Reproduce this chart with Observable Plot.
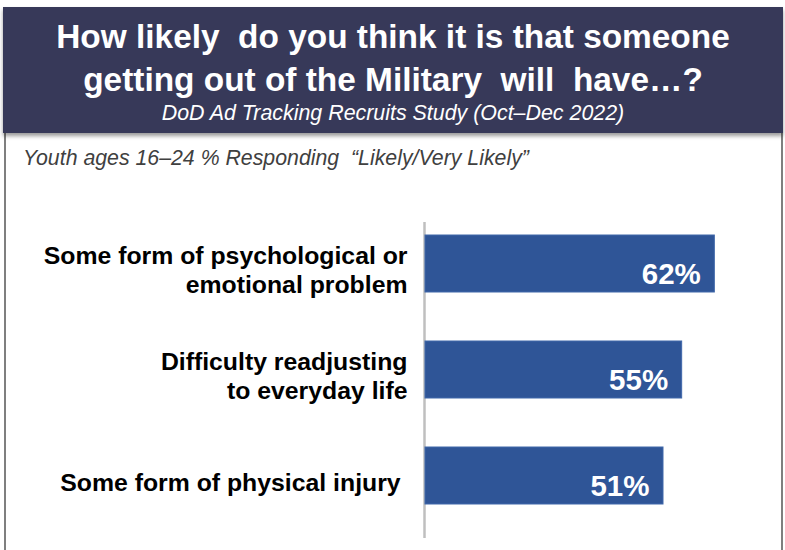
<!DOCTYPE html>
<html>
<head>
<meta charset="utf-8">
<script src="https://cdn.jsdelivr.net/npm/d3@7"></script>
<script src="https://cdn.jsdelivr.net/npm/@observablehq/plot@0.6"></script>
<style>
  html, body { margin: 0; padding: 0; background: #fff; }
  #wrap { position: relative; width: 785px; height: 550px; overflow: hidden;
          font-family: 'Liberation Sans', Arial, sans-serif; }
  #header { position: absolute; left: 3px; top: 7px; width: 780px; height: 126px;
            background: #373959; box-shadow: 0 3px 4px rgba(0,0,0,0.4);
            color: #fff; text-align: center; z-index: 2; }
  #title { padding-top: 8.2px; font-size: 33.4px; font-weight: bold; line-height: 43px; white-space: pre; }
  #subtitle { font-size: 21.4px; font-style: italic; line-height: 24px; }
  .border { position: absolute; top: 133px; width: 2px; height: 417px; background: #7f7f7f; }
  #note { position: absolute; left: 23px; top: 144.5px; font-size: 21.3px; line-height: 26px;
          font-style: italic; color: #404040; white-space: pre; }
  #chart { position: absolute; left: 0; top: 180px; }
</style>
</head>
<body>
<div id="wrap">
  <div id="header">
    <div id="title"></div>
    <div id="subtitle"></div>
  </div>
  <div class="border" style="left:4px"></div>
  <div class="border" style="left:781px"></div>
  <div id="note"></div>
  <div id="chart"></div>
</div>
<script>
// ---- data ----
const titleLines = ["How likely  do you think it is that someone", "getting out of the Military  will  have\u2026?"];
const subtitleText = "DoD Ad Tracking Recruits Study (Oct\u2013Dec 2022)";
const noteText = "Youth ages 16\u201324 % Responding  \u201cLikely/Very Likely\u201d";
const categories = [
  "Some form of psychological or\nemotional problem",
  "Difficulty readjusting\nto everyday life",
  "Some form of physical injury\u00a0"
];
const values = [62, 55, 51];

// ---- text ----
document.getElementById("title").textContent = titleLines.join("\n");
document.getElementById("subtitle").textContent = subtitleText;
document.getElementById("note").textContent = noteText;

// ---- chart ----
const data = categories.map((c, i) => ({cat: c, value: values[i]}));

const chart = Plot.plot({
  width: 785,
  height: 370,
  marginTop: 42,
  marginBottom: 12,
  marginLeft: 425,
  marginRight: 10,
  style: {fontFamily: "'Liberation Sans', Arial, sans-serif", background: "transparent"},
  x: {domain: [0, 75], range: [425, 775], axis: null},
  y: {domain: categories, range: [4.9, 374.4], padding: 0.463, axis: null},
  marks: [
    Plot.ruleX([0], {stroke: "#bfbfbf", strokeWidth: 2.5, dx: -1}),
    Plot.barX(data, {x: "value", y: "cat", fill: "#2f5597", stroke: "#4068aa", strokeWidth: 1}),
    Plot.text(data, {
      x: "value", y: "cat", text: d => d.value + "%",
      textAnchor: "end", lineAnchor: "bottom", dx: -14, dy: 20,
      fill: "white", fontSize: 29.5, fontWeight: "bold"
    }),
    Plot.text(data, {
      x: 0, y: "cat", text: "cat",
      textAnchor: "end", dx: -18, dy: 5, lineHeight: 1.2,
      fill: "#000", fontSize: 24.8, fontWeight: "bold"
    })
  ]
});
document.getElementById("chart").appendChild(chart);
</script>
</body>
</html>
